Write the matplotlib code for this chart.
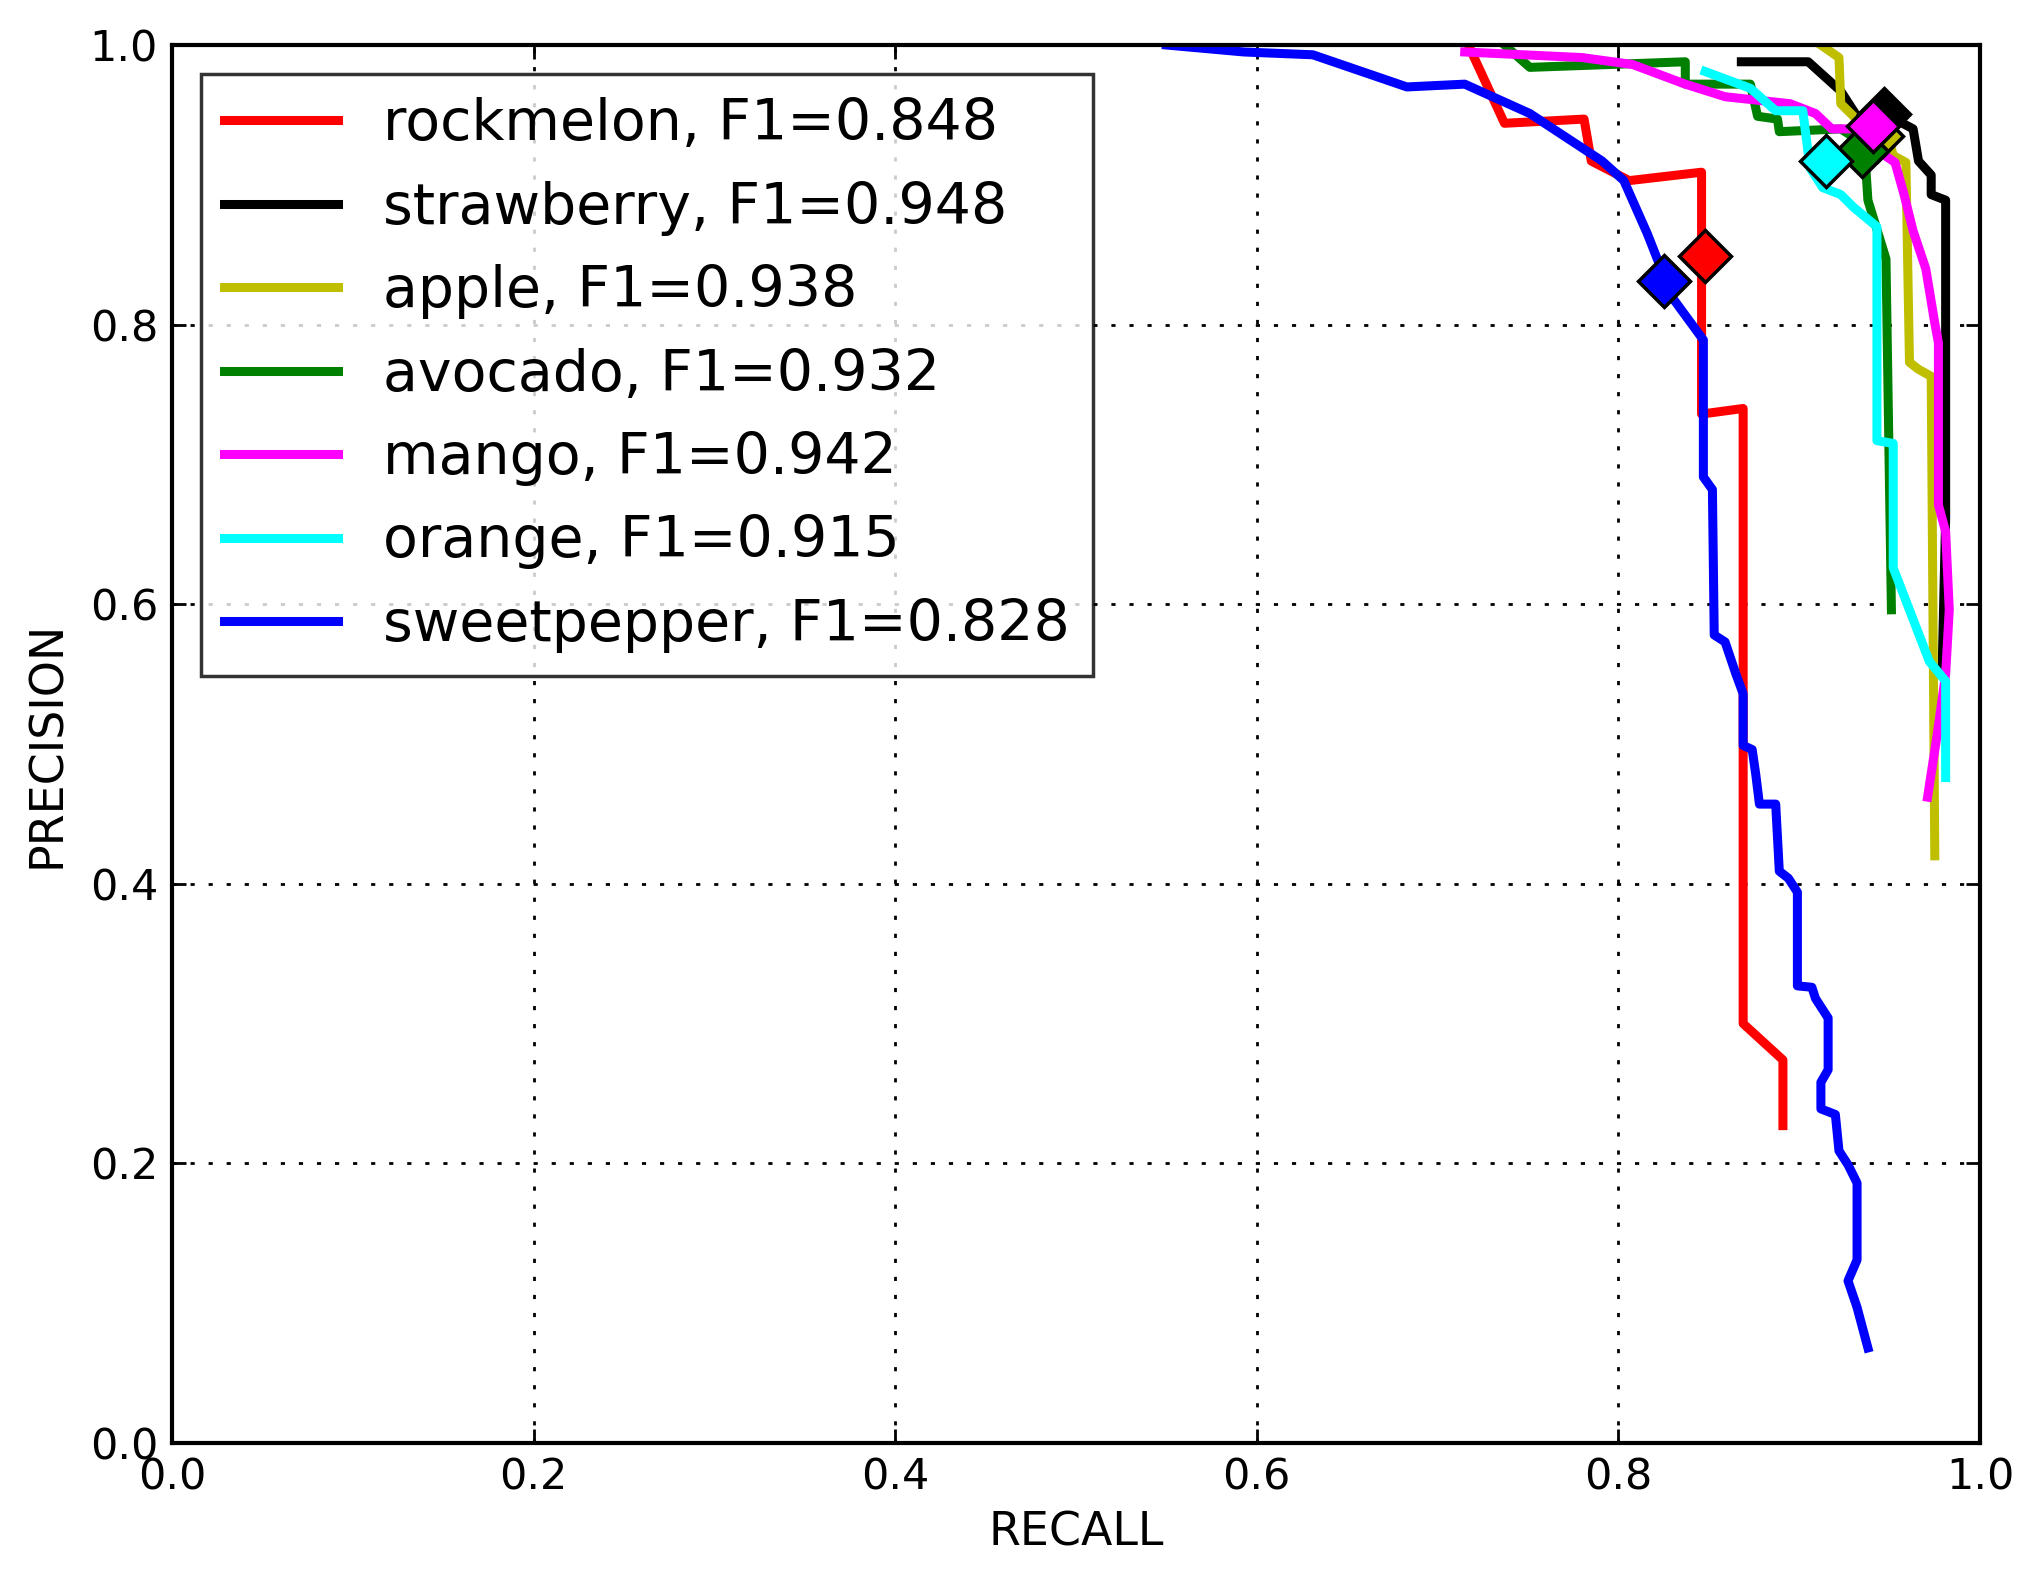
import matplotlib
matplotlib.use("Agg")
import matplotlib.pyplot as plt

names = ["rockmelon", "strawberry", "apple", "avocado", "mango", "orange", "sweetpepper"]
f1 = [0.848, 0.948, 0.938, 0.932, 0.942, 0.915, 0.828]
colors = ["#ff0000", "#000000", "#bfbf00", "#008000", "#ff00ff", "#00ffff", "#0000ff"]

rock_r = [0.717, 0.737, 0.781, 0.785, 0.806, 0.846, 0.846, 0.869, 0.869, 0.891, 0.891]
rock_p = [1.0, 0.944, 0.947, 0.917, 0.903, 0.909, 0.736, 0.740, 0.30, 0.274, 0.227]
straw_r = [0.868, 0.905, 0.923, 0.932, 0.947, 0.963, 0.966, 0.973, 0.973, 0.981, 0.981, 0.979]
straw_p = [0.988, 0.988, 0.967, 0.949, 0.951, 0.940, 0.917, 0.907, 0.893, 0.889, 0.661, 0.55]
apple_r = [0.912, 0.922, 0.923, 0.934, 0.948, 0.952, 0.959, 0.961, 0.966, 0.973, 0.975]
apple_p = [1.0, 0.991, 0.958, 0.944, 0.940, 0.921, 0.916, 0.773, 0.768, 0.763, 0.420]
avo_r = [0.737, 0.751, 0.794, 0.837, 0.837, 0.873, 0.877, 0.888, 0.889, 0.923, 0.936, 0.938, 0.948, 0.951]
avo_p = [1.0, 0.984, 0.986, 0.988, 0.972, 0.972, 0.949, 0.947, 0.938, 0.940, 0.929, 0.889, 0.847, 0.596]
mango_r = [0.715, 0.780, 0.808, 0.837, 0.859, 0.895, 0.909, 0.918, 0.941, 0.945, 0.953, 0.958, 0.963,
           0.970, 0.975, 0.977, 0.977, 0.981, 0.983, 0.981, 0.976, 0.971]
mango_p = [0.995, 0.991, 0.986, 0.972, 0.963, 0.958, 0.951, 0.940, 0.940, 0.923, 0.916, 0.893, 0.867,
           0.840, 0.801, 0.787, 0.671, 0.652, 0.596, 0.550, 0.504, 0.462]
orange_r = [0.848, 0.873, 0.887, 0.902, 0.906, 0.913, 0.923, 0.930, 0.943, 0.943, 0.952, 0.952,
            0.972, 0.981, 0.981]
orange_p = [0.981, 0.969, 0.953, 0.953, 0.912, 0.898, 0.893, 0.884, 0.870, 0.717, 0.715, 0.626,
            0.559, 0.545, 0.476]
pep_r = [0.55, 0.593, 0.631, 0.683, 0.715, 0.751, 0.791, 0.803, 0.816, 0.830, 0.847, 0.847, 0.852,
         0.853, 0.859, 0.865, 0.869, 0.869, 0.874, 0.876, 0.878, 0.887, 0.889, 0.894, 0.899, 0.899,
         0.907, 0.909, 0.916, 0.916, 0.912, 0.912, 0.920, 0.922, 0.927, 0.932, 0.932, 0.927, 0.932, 0.938]
pep_p = [1.0, 0.995, 0.993, 0.970, 0.972, 0.951, 0.917, 0.903, 0.865, 0.819, 0.789, 0.691, 0.682,
         0.578, 0.573, 0.550, 0.536, 0.499, 0.496, 0.478, 0.457, 0.457, 0.409, 0.404, 0.394, 0.327,
         0.326, 0.318, 0.304, 0.267, 0.258, 0.239, 0.235, 0.209, 0.199, 0.186, 0.131, 0.116, 0.097, 0.068]

recalls = [rock_r, straw_r, apple_r, avo_r, mango_r, orange_r, pep_r]
precisions = [rock_p, straw_p, apple_p, avo_p, mango_p, orange_p, pep_p]
best_r = [0.848, 0.947, 0.943, 0.935, 0.941, 0.915, 0.825]
best_p = [0.849, 0.951, 0.935, 0.924, 0.942, 0.917, 0.831]

fig = plt.figure(figsize=(20.34, 15.89), dpi=100)
ax = fig.add_axes([172/2034, 1-1443/1589, (1980-172)/2034, (1443-45)/1589])
for n, f, c, r, p in zip(names, f1, colors, recalls, precisions):
    ax.plot(r, p, color=c, lw=6.5, label=f"{n}, F1={f:.3f}")
for c, r, p in zip(colors, best_r, best_p):
    ax.plot([r], [p], marker="D", ms=26, mfc=c, mec="black", mew=2.5, ls="none")
ax.set_xlim(0, 1)
ax.set_ylim(0, 1)
ax.set_xticks([0, 0.2, 0.4, 0.6, 0.8, 1.0])
ax.set_yticks([0, 0.2, 0.4, 0.6, 0.8, 1.0])
ax.set_xticklabels(["0.0", "0.2", "0.4", "0.6", "0.8", "1.0"])
ax.set_yticklabels(["0.0", "0.2", "0.4", "0.6", "0.8", "1.0"])
ax.tick_params(labelsize=31, length=10, width=2, direction="in", top=True, right=True, pad=10)
ax.grid(True, color="black", ls=(0, (1.5, 5)), lw=2)
for s in ax.spines.values():
    s.set_linewidth(3)
ax.set_xlabel("RECALL", fontsize=33, labelpad=8)
ax.set_ylabel("PRECISION", fontsize=33, labelpad=14)
leg = ax.legend(loc="upper left", fontsize=41, frameon=True, fancybox=False, handlelength=2.0,
                borderpad=0.4, labelspacing=0.5, borderaxespad=0,
                bbox_to_anchor=(0.016, 0.979))
leg.get_frame().set_edgecolor("black")
leg.get_frame().set_linewidth(2.5)
fig.savefig("out.png", dpi=100, facecolor="white")
